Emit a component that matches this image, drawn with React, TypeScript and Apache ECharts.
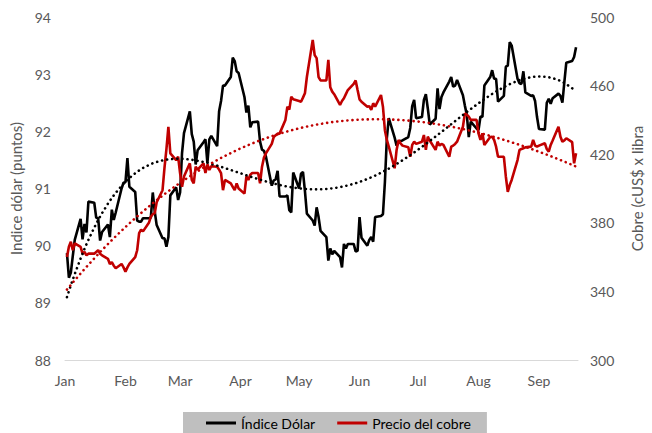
import React, { useEffect, useRef } from "react";
import * as echarts from "echarts";

const MONTHS = ["Jan", "Feb", "Mar", "Apr", "May", "Jun", "Jul", "Aug", "Sep"];
const START = "2021-01-04";
const END = "2021-09-22";
const AXIS_MIN = "2021-01-03";
const AXIS_MAX = "2021-09-23";
const LEFT_TICKS = [88, 89, 90, 91, 92, 93, 94];
const RIGHT_TICKS = [300, 340, 380, 420, 460, 500];

// Índice Dólar (one value per weekday from START to END)
const dollarIndex = [
  89.87, 89.44, 89.53, 89.82, 90.10,
  90.47, 90.11, 90.38, 90.23, 90.77,
  90.75, 90.49, 90.48, 90.09, 90.24,
  90.37, 90.15, 90.63, 90.45, 90.58,
  91.00, 91.10, 91.11, 91.53, 91.03,
  90.94, 90.44, 90.42, 90.42, 90.48,
  90.48, 90.49, 90.93, 90.60, 90.36,
  90.13, 90.13, 89.98, 90.15, 90.88,
  91.02, 90.80, 90.93, 91.62, 91.97,
  92.35, 91.95, 91.82, 91.42, 91.67,
  91.81, 91.86, 91.45, 91.86, 91.92,
  91.74, 92.35, 92.53, 92.80, 92.80,
  92.95, 93.29, 93.23, 93.05, 93.02,
  92.60, 92.33, 92.45, 92.07, 92.16,
  92.17, 91.82, 91.68, 91.66, 91.56,
  91.05, 91.14, 91.16, 91.31, 90.86,
  90.86, 90.88, 90.62, 90.58, 91.28,
  91.00, 91.26, 91.29, 90.96, 90.56,
  90.44, 90.35, 90.67, 90.50, 90.26,
  90.15, 89.74, 89.95, 89.85, 89.91,
  89.80, 89.62, 90.03, 89.95, 90.03,
  90.03, 89.90, 89.91, 90.50, 90.14,
  90.00, 90.10, 90.15, 90.07, 90.50,
  90.52, 90.55, 91.11, 91.88, 92.23,
  91.89, 91.75, 91.80, 91.83, 91.84,
  91.90, 92.06, 92.44, 92.55, 92.23,
  92.25, 92.55, 92.65, 92.40, 92.12,
  92.22, 92.75, 92.39, 92.60, 92.68,
  92.87, 92.95, 92.78, 92.80, 92.90,
  92.63, 92.45, 92.29, 91.90, 92.17,
  92.05, 92.02, 92.26, 92.25, 92.80,
  92.95, 93.07, 92.92, 92.92, 92.52,
  92.62, 93.13, 93.15, 93.56, 93.50,
  92.92, 92.84, 92.83, 93.05, 92.68,
  92.62, 92.63, 92.53, 92.25, 92.04,
  92.03, 92.50, 92.57, 92.48, 92.58,
  92.66, 92.62, 92.50, 92.86, 93.20,
  93.23, 93.30, 93.47,
];

// Precio del cobre (cUS$ x libra), one value per weekday
const copperPrice = [
  360, 366, 369, 364, 368,
  366, 362, 363, 361, 362,
  362, 363, 364, 362, 361,
  359, 356, 357, 355, 353.5,
  356, 354, 351.5, 354, 356,
  360, 364, 374, 376, 375,
  380, 383.5, 385, 385.6, 392,
  399, 412, 423, 436, 420.5,
  416.6, 418.5, 409, 401, 407,
  414.7, 405, 403, 412.7, 411,
  414.7, 409, 414, 410.8, 413,
  412.7, 411, 409, 399, 405,
  403, 401, 399, 403, 400,
  397, 407, 405, 408, 409,
  409, 403, 412.7, 418, 420.5,
  426, 430, 431, 432, 432,
  440, 447.7, 446, 453.5, 452,
  451, 450.6, 453, 455.5, 465,
  486.6, 477.8, 476, 465, 463,
  463, 475, 459, 456.5, 455,
  448.7, 451, 452.6, 455, 457.4,
  461, 463, 457.4, 452, 450.6,
  447.7, 448, 445.8, 449.7, 447.7,
  454.5, 447.7, 434, 428.3, 424.4,
  411.8, 422.5, 428.3, 426.4, 425,
  424, 418.5, 425.4, 427.3, 426,
  427.3, 431.2, 422.5, 430.2, 428,
  422.5, 427.3, 425, 426, 425.4,
  418.5, 424.4, 425, 426, 427.3,
  436, 443.8, 443, 441.9, 440,
  440, 432.2, 428.3, 432.2, 425.4,
  430, 430.2, 428.3, 424.4, 418.5,
  418.5, 407, 398, 402, 405,
  416.6, 422.5, 423, 423.5, 424,
  424.4, 428.3, 425, 424.4, 425,
  426.4, 423, 421.5, 425.4, 428,
  436, 430.2, 427.3, 428, 429.3,
  427, 414.7, 420.5,
];

const DAY = 86400000;
const ts = (s: string) => Date.parse(s + "T00:00:00Z");

function weekdays(a: string, b: string): number[] {
  const out: number[] = [];
  for (let t = ts(a); t <= ts(b); t += DAY) {
    const wd = new Date(t).getUTCDay();
    if (wd !== 0 && wd !== 6) out.push(t);
  }
  return out;
}

function polyfit(xs: number[], ys: number[], order: number) {
  const n = xs.length;
  const mean = xs.reduce((s, v) => s + v, 0) / n;
  const sc = 100;
  const tx = xs.map((x) => (x - mean) / sc);
  const m = order + 1;
  const A: number[][] = [];
  const b: number[] = [];
  for (let i = 0; i < m; i++) {
    A.push(new Array(m).fill(0));
    b.push(0);
  }
  for (let k = 0; k < n; k++) {
    for (let i = 0; i < m; i++) {
      b[i] += ys[k] * Math.pow(tx[k], i);
      for (let j = 0; j < m; j++) A[i][j] += Math.pow(tx[k], i + j);
    }
  }
  for (let c = 0; c < m; c++) {
    let p = c;
    for (let r = c + 1; r < m; r++) if (Math.abs(A[r][c]) > Math.abs(A[p][c])) p = r;
    [A[c], A[p]] = [A[p], A[c]];
    [b[c], b[p]] = [b[p], b[c]];
    for (let r = c + 1; r < m; r++) {
      const f = A[r][c] / A[c][c];
      for (let j = c; j < m; j++) A[r][j] -= f * A[c][j];
      b[r] -= f * b[c];
    }
  }
  const coef = new Array(m).fill(0);
  for (let i = m - 1; i >= 0; i--) {
    let s = b[i];
    for (let j = i + 1; j < m; j++) s -= A[i][j] * coef[j];
    coef[i] = s / A[i][i];
  }
  return (x: number) => {
    const t = (x - mean) / sc;
    let v = 0;
    for (let i = m - 1; i >= 0; i--) v = v * t + coef[i];
    return v;
  };
}

const FONT = "Lato";
const GREY = "#595959";

export default function App() {
  const ref = useRef<HTMLDivElement>(null);
  useEffect(() => {
    if (!ref.current) return;
    const chart = echarts.init(ref.current, undefined, { renderer: "svg" });
    const base = ts(AXIS_MIN);
    const days = weekdays(START, END).map((t) => (t - base) / DAY);
    const labelPos = MONTHS.map((_, i) => (Date.UTC(2021, i, 3) - base) / DAY);
    const dData = days.map((x, i) => [x, dollarIndex[i]]);
    const cData = days.map((x, i) => [x, copperPrice[i]]);
    const fD = polyfit(days, dollarIndex, 4);
    const fC = polyfit(days, copperPrice, 3);
    const dTrend = days.map((x) => [x, fD(x)]);
    const cTrend = days.map((x) => [x, fC(x)]);

    chart.setOption({
      animation: false,
      backgroundColor: "#ffffff",
      textStyle: { fontFamily: FONT },
      grid: { left: 64, right: 67, top: 17, bottom: 73 },
      legend: {
        data: ["Índice Dólar", "Precio del cobre"],
        top: 412,
        left: 183,
        backgroundColor: "#bfbfbf",
        padding: [4, 16, 8, 23],
        itemGap: 22,
        itemWidth: 30,
        itemHeight: 3,
        icon: "rect",
        textStyle: { fontSize: 14, color: "#000000", fontFamily: FONT },
      },
      xAxis: {
        type: "value",
        min: 0,
        max: (ts(AXIS_MAX) - base) / DAY,
        axisLine: { show: true, lineStyle: { color: "#d9d9d9", width: 1 } },
        axisTick: { show: false },
        splitLine: { show: false },
        axisLabel: {
          customValues: labelPos,
          formatter: (v: number) => {
            const i = labelPos.indexOf(v);
            return i >= 0 ? MONTHS[i] : "";
          },
          color: GREY,
          fontSize: 14,
          margin: 13,
          fontFamily: FONT,
        },
      },
      yAxis: [
        {
          type: "value",
          min: LEFT_TICKS[0],
          max: LEFT_TICKS[LEFT_TICKS.length - 1],
          interval: 1,
          name: "Indice dólar (puntos)",
          nameLocation: "middle",
          nameGap: 42,
          nameRotate: 90,
          nameTextStyle: { color: GREY, fontSize: 15, fontFamily: FONT },
          axisLine: { show: false },
          axisTick: { show: false },
          splitLine: { show: false },
          axisLabel: { color: GREY, fontSize: 14, margin: 14, fontFamily: FONT },
        },
        {
          type: "value",
          min: RIGHT_TICKS[0],
          max: RIGHT_TICKS[RIGHT_TICKS.length - 1],
          name: "Cobre (cUS$ x libra",
          nameLocation: "middle",
          nameGap: 51,
          nameRotate: 90,
          nameTextStyle: { color: GREY, fontSize: 15, fontFamily: FONT },
          axisLine: { show: false },
          axisTick: { show: false },
          splitLine: { show: false },
          axisLabel: {
            customValues: RIGHT_TICKS,
            color: GREY,
            fontSize: 14,
            margin: 12,
            fontFamily: FONT,
          },
        },
      ],
      series: [
        {
          name: "Índice Dólar",
          type: "line",
          yAxisIndex: 0,
          data: dData,
          showSymbol: false,
          symbol: "none",
          itemStyle: { color: "#000000" },
          lineStyle: { color: "#000000", width: 2.6 },
          z: 2,
        },
        {
          name: "Precio del cobre",
          type: "line",
          yAxisIndex: 1,
          data: cData,
          showSymbol: false,
          symbol: "none",
          itemStyle: { color: "#c00000" },
          lineStyle: { color: "#c00000", width: 2.6 },
          z: 3,
        },
        {
          name: "trend dólar",
          type: "line",
          yAxisIndex: 0,
          data: dTrend,
          showSymbol: false,
          symbol: "none",
          smooth: false,
          lineStyle: { color: "#000000", width: 2.6, type: [0.1, 5], cap: "round" },
          z: 4,
        },
        {
          name: "trend cobre",
          type: "line",
          yAxisIndex: 1,
          data: cTrend,
          showSymbol: false,
          symbol: "none",
          lineStyle: { color: "#c00000", width: 2.6, type: [0.1, 5], cap: "round" },
          z: 4,
        },
      ],
    });
    return () => chart.dispose();
  }, []);
  return (
    <div
      ref={ref}
      style={{ position: "fixed", left: 0, top: 0, width: 652, height: 433, background: "#fff" }}
    />
  );
}
